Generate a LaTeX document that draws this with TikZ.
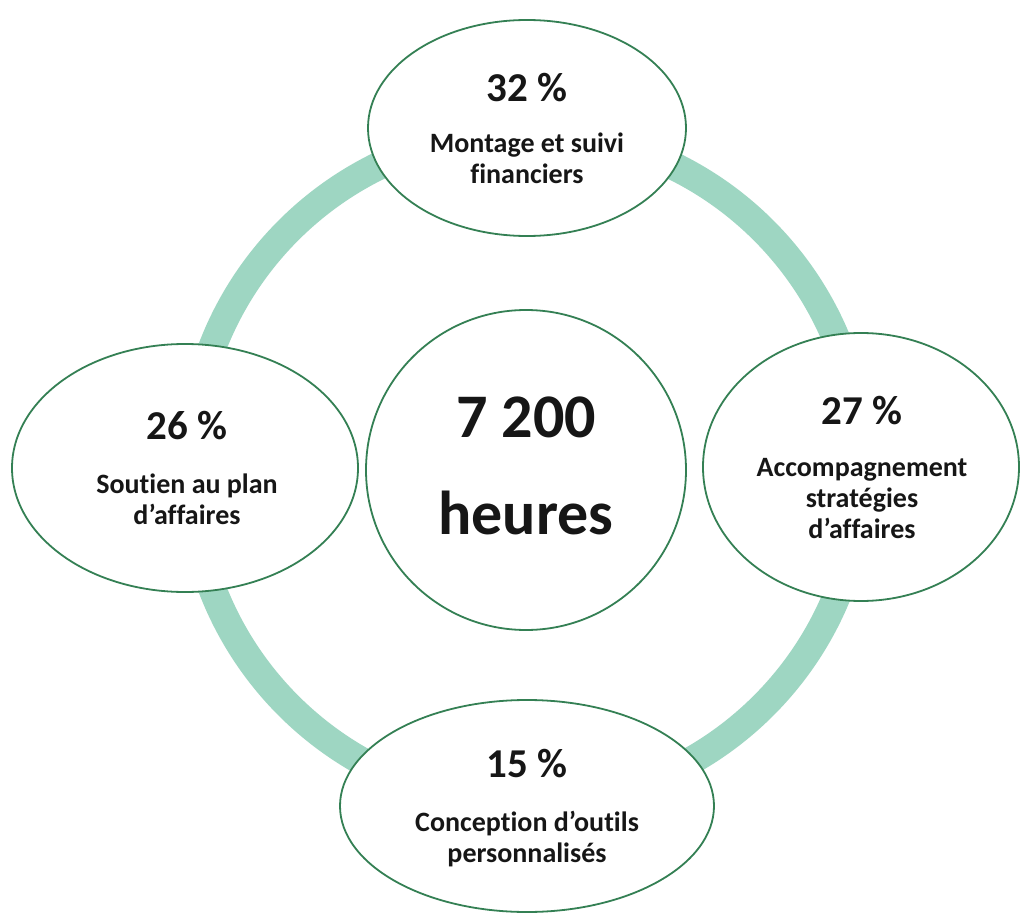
\documentclass[tikz,border=0pt]{standalone}
\usepackage{fontspec}
\setmainfont{Carlito}[Ligatures={NoCommon}]
\usetikzlibrary{shapes.geometric}
\definecolor{ringc}{RGB}{158,214,194}
\definecolor{edgec}{RGB}{52,128,84}
\definecolor{txt}{RGB}{22,22,22}
\begin{document}
\begin{tikzpicture}[x=1pt,y=-1pt,
  bubble/.style={ellipse, draw=edgec, line width=1.8pt, fill=white, inner sep=0pt},
  pct/.style={font=\fontsize{41}{41}\selectfont\bfseries, text=txt, inner sep=0pt},
  lbl/.style={font=\fontsize{28}{31}\selectfont\bfseries, text=txt, align=center, inner sep=0pt},
  big/.style={font=\fontsize{62}{62}\selectfont\bfseries, text=txt, inner sep=0pt}]
\useasboundingbox (0,0) rectangle (1021,915);
\fill[white] (0,0) rectangle (1021,915);
\coordinate (ctr) at (526,468);
\draw[ringc, line width=28pt] (ctr) circle[radius=336];
% bubbles
\node[bubble, minimum width=318pt, minimum height=216pt] (top) at (527,128) {};
\node[bubble, minimum width=346pt, minimum height=248pt] (left) at (185,468) {};
\node[bubble, circle, minimum size=320pt] (mid) at (526,470) {};
\node[bubble, minimum width=316pt, minimum height=268pt] (right) at (861,467) {};
\node[bubble, minimum width=374pt, minimum height=212pt] (bottom) at (527,806) {};
% texts
\node[pct] (topP) at (527,88) {32 \%};
\node[lbl] (topL) at (527,158) {Montage et suivi\\financiers};
\node[pct] (leftP) at (187,426) {26 \%};
\node[lbl] (leftL) at (187,499) {Soutien au plan\\d’affaires};
\node[pct] (rightP) at (862,411) {27 \%};
\node[lbl] (rightL) at (862,499) {Accompagnement\\stratégies\\d’affaires};
\node[pct] (bottomP) at (527,764) {15 \%};
\node[lbl] (bottomL) at (527,839) {Conception d’outils\\personnalisés};
\node[big] (midA) at (526,417) {7 200};
\node[big] (midB) at (526,513) {heures};
\end{tikzpicture}
\end{document}
